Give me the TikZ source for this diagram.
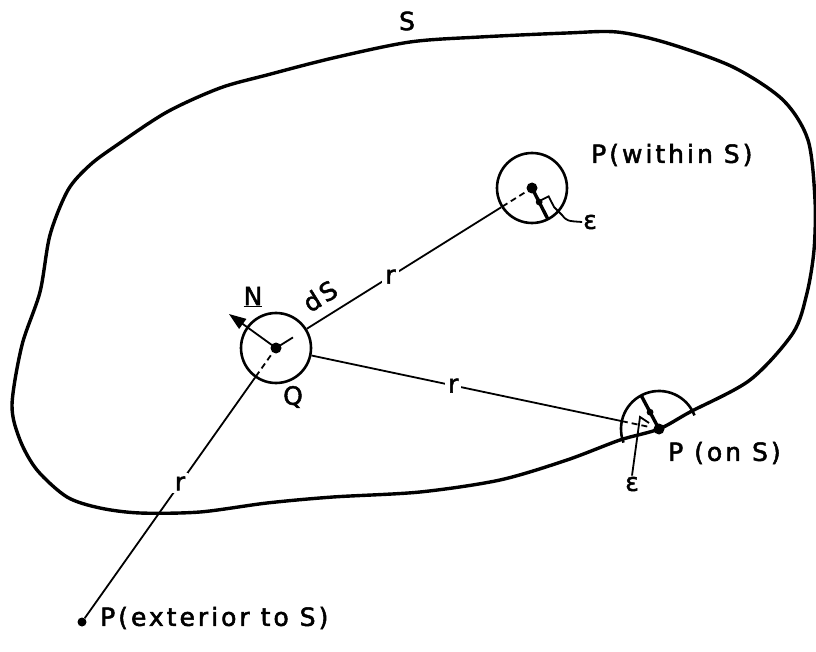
\documentclass[tikz,border=0pt]{standalone}
\usepackage{fontspec}
\setmainfont{DejaVu Sans}[LetterSpace=12, FakeBold=2]
\usetikzlibrary{calc,arrows.meta}
\begin{document}
\begin{tikzpicture}[x=1pt,y=-1pt,
  lab/.style={font=\fontsize{25}{29}\selectfont, inner sep=1pt},
  bnd/.style={line width=3.4pt, line join=round},
  ring/.style={draw, circle, line width=2.6pt, minimum size=70pt, inner sep=0pt},
  ray/.style={line width=1.8pt},
  dotn/.style={circle, fill, inner sep=0pt, minimum size=11pt},
  epsline/.style={line width=3.4pt},
  dsh/.style={line width=1.8pt, dash pattern=on 6pt off 4pt},
  gap/.style={lab, fill=white, inner sep=3pt}]
\useasboundingbox (0,0) rectangle (816,652);
% boundary S
\draw[bnd] plot[smooth cycle, tension=0.5] coordinates {
  (50,235) (68,190) (90,165) (117,145) (167,112) (220,88) (267,75)
  (333,58) (410,42) (480,37) (567,33) (617,32) (667,43) (733,67) (783,100)
  (808,140) (815,200) (814,250) (807,293) (793,333) (750,380) (690,412)
  (659,429) (620,440) (567,460) (500,480) (420,492) (333,497) (267,503)
  (200,512) (140,513) (100,508) (67,497) (37,470) (20,440) (12,405)
  (22,345) (40,292)};
% key points
\coordinate (Q) at (276,348);
\coordinate (Pw) at (532,188);
\coordinate (Pon) at (659,429);
\node[ring] (Qc) at (Q) {};
\node[ring] (Pwc) at (Pw) {};
\node[dotn] (Qd) at (Q) {};
\node[dotn] (Pwd) at (Pw) {};
\node[dotn] (Pond) at (Pon) {};
\node[dotn, minimum size=9pt] (Pe) at (82,622) {};
% half circle at P on S
\draw[line width=2.6pt] ($(Pon)+(-21:38)$) arc[start angle=-21, end angle=-201, radius=38];
% rays
\draw[ray] (Qc) -- node[gap, pos=0.43] (r1) {r} (Pwc);
\coordinate (Ponb) at ($(Pon)!38pt!(Q)$);
\draw[ray] (Qc) -- node[gap, pos=0.457] (r2) {r} (Ponb);
\draw[ray] (Qc) -- node[gap, pos=0.44] (r3) {r} (Pe);
% dashed parts
\draw[dsh] ($(Pw)!35pt!(Q)$) -- ($(Pw)!8pt!(Q)$);
\draw[dsh] (Ponb) -- ($(Pon)!8pt!(Q)$);
\draw[dsh] ($(Q)!9pt!(Pe)$) -- ($(Q)!34pt!(Pe)$);
\draw[ray] (Q) -- ($(Q)!20pt!(Pw)$);
% normal N
\coordinate (Nt) at (229,314);
\draw[ray, -{Triangle[length=17pt, width=12pt]}] (Q) -- (Nt);
% epsilon radius in P within
\coordinate (Pwe) at ($(Pw)+(63:35)$);
\draw[epsline] (Pw) -- (Pwe);
\fill ($(Pw)!0.45!(Pwe)$) circle (3.4);
\coordinate (sqa) at ($(Pw)+(63:15)$);
\coordinate (sqb) at ($(Pw)+(63:27)$);
\node[lab] (e1) at (590,222) {ε};
\draw[ray] (sqa) -- ++(-27:11) -- ($(sqb)+(-27:11)$) -- (562,215) .. controls (567,221) .. (e1.west);
% epsilon radius at P on S
\coordinate (Pone) at ($(Pon)+(-118:38)$);
\draw[epsline] (Pon) -- (Pone);
\fill ($(Pon)!0.5!(Pone)$) circle (3.4);
\node[lab] (e2) at (632,484) {ε};
\coordinate (e2t) at (640,417);
\draw[ray] (e2.north) -- (e2t) -- (649,423);
% labels
\node[lab] (S) at (407,21) {S};
\node[lab, anchor=west] (lw) at (590,155) {P(within S)};
\node[lab, anchor=west] (lo) at (667,453) {P (on S)};
\node[lab, anchor=west] (le) at (99,618) {P(exterior to S)};
\node[lab] (lq) at (293,397) {Q};
\node[lab] (ln) at (253,297) {\underline{N}};
\node[lab, rotate=32] (lds) at (320,296) {dS};
\end{tikzpicture}
\end{document}
